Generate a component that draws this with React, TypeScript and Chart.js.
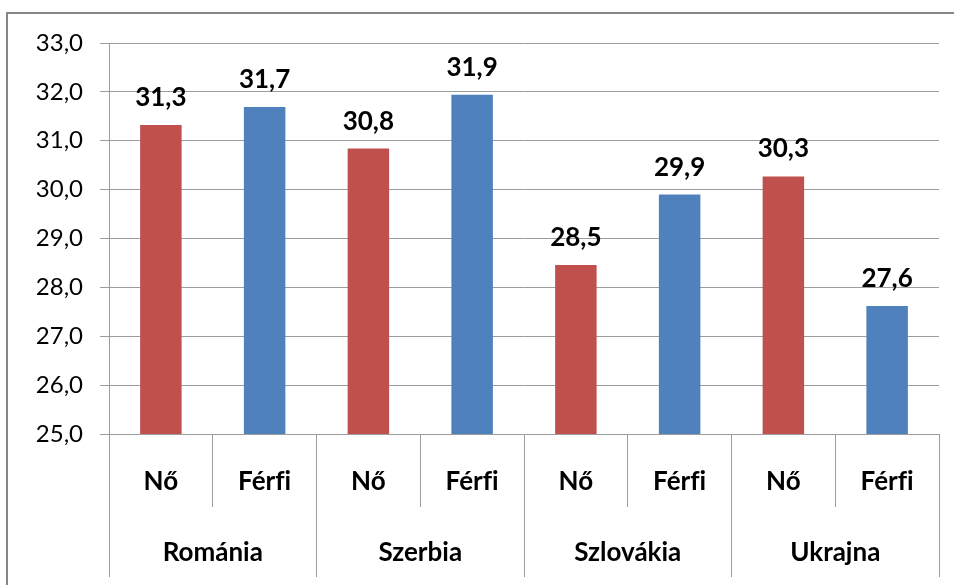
import React, { useEffect, useRef } from "react";
import { Chart, registerables } from "chart.js";

Chart.register(...registerables);

const countries = ["Románia", "Szerbia", "Szlovákia", "Ukrajna"];
const genders = ["Nő", "Férfi"];
const noValues = [31.32, 30.84, 28.46, 30.27];
const ferfiValues = [31.69, 31.94, 29.9, 27.62];
const yMin = 25;
const yMax = 33;
const yStep = 1;

const RED = "#C0504D";
const BLUE = "#4F81BD";
const GRID = "#9c9c9c";
const FONT = "Lato, 'Open Sans', sans-serif";

const subLabels: string[] = [];
const values: number[] = [];
const colors: string[] = [];
countries.forEach((_, i) => {
  subLabels.push(genders[0], genders[1]);
  values.push(noValues[i], ferfiValues[i]);
  colors.push(RED, BLUE);
});

const fmt = (v: number) => v.toFixed(1).replace(".", ",");
// break the "fi" ligature of the font so letters render separately
const noLig = (s: string) => s.replace(/fi/g, "f\u200Ci");

const frame = {
  id: "frame",
  afterDraw(chart: any) {
    const ctx = chart.ctx;
    ctx.save();
    ctx.strokeStyle = "#878787";
    ctx.lineWidth = 2;
    ctx.strokeRect(7, 13, 1000, 700);
    ctx.restore();
  },
};

const dataLabels = {
  id: "dataLabels",
  afterDatasetsDraw(chart: any) {
    const ctx = chart.ctx;
    const meta = chart.getDatasetMeta(0);
    ctx.save();
    ctx.font = `bold 26px ${FONT}`;
    ctx.fillStyle = "#000";
    ctx.textAlign = "center";
    ctx.textBaseline = "alphabetic";
    meta.data.forEach((bar: any, i: number) => {
      ctx.fillText(fmt(values[i]), bar.x, bar.y - 19);
    });
    ctx.restore();
  },
};

export default function App() {
  const ref = useRef<HTMLCanvasElement | null>(null);
  useEffect(() => {
    if (!ref.current) return;
    const chart = new Chart(ref.current, {
      type: "bar",
      data: {
        labels: subLabels,
        datasets: [
          {
            data: values,
            backgroundColor: colors,
            borderWidth: 0,
            barPercentage: 0.4,
            categoryPercentage: 1,
          },
        ],
      },
      options: {
        animation: false,
        responsive: false,
        maintainAspectRatio: false,
        layout: { padding: { left: 0, top: 43, right: 15, bottom: 8 } },
        plugins: { legend: { display: false }, tooltip: { enabled: false } },
        scales: {
          y: {
            min: yMin,
            max: yMax,
            afterFit: (s: any) => {
              s.width = 109;
            },
            ticks: {
              stepSize: yStep,
              callback: (v: any) => fmt(Number(v)),
              color: "#000",
              font: { family: FONT, size: 24 },
              padding: 17,
            },
            grid: { color: GRID, lineWidth: 1, tickLength: 9, drawTicks: true },
            border: { color: GRID, width: 1 },
          },
          x: {
            weight: 0,
            offset: true,
            afterFit: (s: any) => {
              s.height = 73;
            },
            ticks: {
              color: "#000",
              font: { family: FONT, size: 26, weight: "bold" },
              padding: -40.6,
              maxRotation: 0,
              autoSkip: false,
              callback: (_v: any, i: number) => noLig(subLabels[i]),
            },
            grid: {
              offset: true,
              drawOnChartArea: false,
              drawTicks: true,
              tickLength: 73,
              color: GRID,
            },
            border: { color: GRID, width: 1 },
          },
          x2: {
            type: "category",
            position: "bottom",
            weight: 1,
            labels: countries,
            offset: true,
            afterFit: (s: any) => {
              s.height = 70;
            },
            ticks: {
              color: "#000",
              font: { family: FONT, size: 26, weight: "bold" },
              padding: -39.6,
              maxRotation: 0,
              autoSkip: false,
            },
            grid: {
              offset: true,
              drawOnChartArea: false,
              drawTicks: true,
              tickLength: 70,
              color: GRID,
            },
            border: { display: false },
          },
        },
      } as any,
      plugins: [dataLabels, frame],
    });
    return () => chart.destroy();
  }, []);
  return (
    <div style={{ position: "absolute", left: 0, top: 0, width: 954, height: 585, background: "#fff" }}>
      <canvas ref={ref} width={954} height={585} style={{ display: "block" }} />
    </div>
  );
}
